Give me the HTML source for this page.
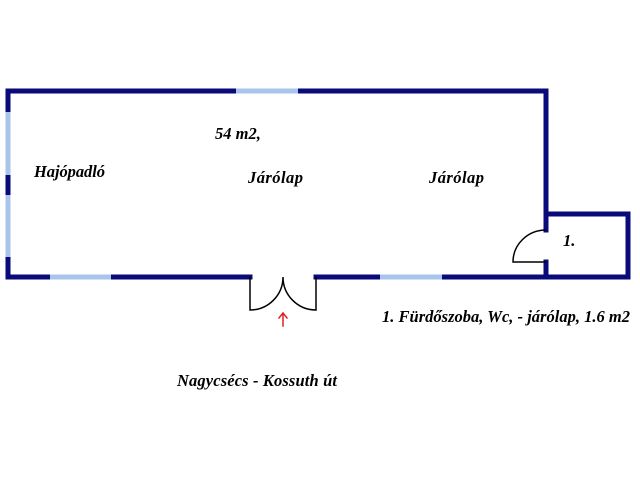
<!DOCTYPE html>
<html><head><style>body{margin:0;background:#fff}</style></head><body>
<svg width="640" height="480" xmlns="http://www.w3.org/2000/svg" style="display:block">
<g stroke-linecap="square" fill="none">
<g stroke="#0a0a7a" stroke-width="5">
<path d="M8,91 H236 M298,91 H546 V214 H628 V277 H442 M380,277 H316 M250,277 H111 M50,277 H8 V257 M8,195 V175 M8,112 V91"/>
<path d="M546,214 V230 M546,262 V277"/>
</g>
<g stroke="#a8c4ea" stroke-width="5" stroke-linecap="butt">
<path d="M236,91 H298 M50,277 H111 M380,277 H442 M8,112 V175 M8,195 V257"/>
</g>
<g stroke="#000" stroke-width="1.5" stroke-linecap="butt">
<path d="M250,277 V310 A33,33 0 0 0 283,277 A33,33 0 0 0 316,310 V277"/>
<path d="M546,230 A33,32 0 0 0 513,262 H546"/>
</g>
<path d="M283,326 V314 M279,318 L283,313 L287,318" stroke="#e02020" stroke-width="1.5"/>
</g>
<g font-family="Liberation Serif, serif" font-weight="bold" font-style="italic" font-size="16.5" fill="#000">
<text x="215" y="139">54 m2,</text>
<text x="34" y="177" textLength="71">Hajópadló</text>
<text x="248" y="183" textLength="55">Járólap</text>
<text x="429" y="183" textLength="55">Járólap</text>
<text x="563" y="246">1.</text>
<text x="382" y="322" textLength="248">1. Fürdőszoba, Wc, - járólap, 1.6 m2</text>
<text x="177" y="386" textLength="160">Nagycsécs - Kossuth út</text>
</g>
</svg>
</body></html>
